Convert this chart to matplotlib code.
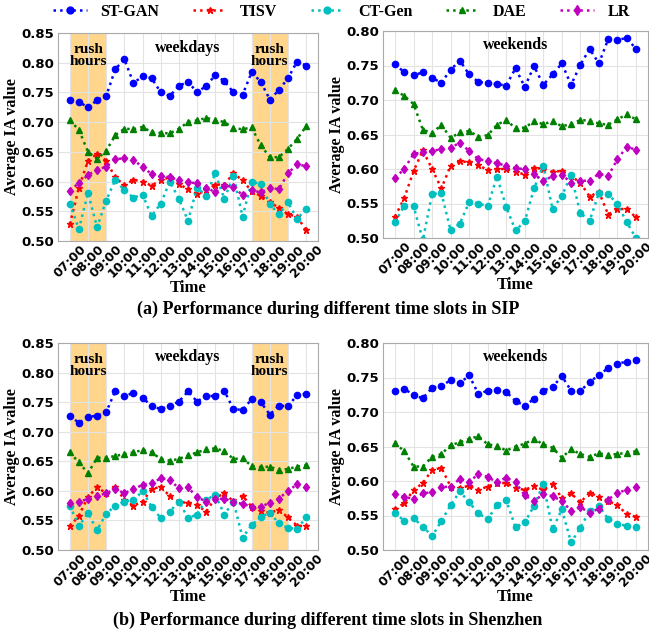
import numpy as np
import matplotlib.pyplot as plt

# half-hour slots 07:00 .. 20:00
hours = [7, 8, 9, 10, 11, 12, 13, 14, 15, 16, 17, 18, 19, 20]
hour_labels = ["%02d:00" % h for h in hours]
slots = np.arange(7, 20.01, 0.5)

methods = ["ST-GAN", "TISV", "CT-Gen", "DAE", "LR"]
colors = ["b", "r", "c", "g", "m"]
markers = ["o", "*", "o", "^", "d"]
msizes = [4.5, 4.5, 4.5, 4.5, 4.5]

# (a) SIP weekdays
sip_wd_stgan = [0.737, 0.734, 0.725, 0.737, 0.744, 0.789, 0.806, 0.766, 0.777, 0.774, 0.750, 0.744, 0.761, 0.768,
                0.750, 0.761, 0.779, 0.769, 0.750, 0.746, 0.784, 0.768, 0.738, 0.754, 0.774, 0.802, 0.795]
sip_wd_tisv = [0.528, 0.590, 0.635, 0.647, 0.635, 0.607, 0.594, 0.603, 0.600, 0.593, 0.603, 0.607, 0.596, 0.587,
               0.579, 0.585, 0.595, 0.595, 0.614, 0.602, 0.584, 0.576, 0.565, 0.556, 0.545, 0.541, 0.518]
sip_wd_ctgen = [0.563, 0.520, 0.581, 0.523, 0.568, 0.603, 0.585, 0.573, 0.578, 0.542, 0.563, 0.600, 0.571, 0.534,
                0.590, 0.576, 0.614, 0.571, 0.610, 0.541, 0.600, 0.596, 0.562, 0.545, 0.565, 0.537, 0.554]
sip_wd_dae = [0.703, 0.687, 0.650, 0.638, 0.652, 0.678, 0.689, 0.688, 0.692, 0.683, 0.682, 0.681, 0.689, 0.700,
              0.703, 0.707, 0.704, 0.700, 0.690, 0.688, 0.691, 0.661, 0.641, 0.641, 0.655, 0.672, 0.693]
sip_wd_lr = [0.584, 0.598, 0.611, 0.620, 0.625, 0.638, 0.639, 0.637, 0.624, 0.613, 0.610, 0.607, 0.603, 0.599,
             0.597, 0.590, 0.582, 0.593, 0.591, 0.577, 0.585, 0.582, 0.590, 0.587, 0.614, 0.629, 0.626]

# (a) SIP weekends
sip_we_stgan = [0.752, 0.740, 0.736, 0.740, 0.732, 0.725, 0.744, 0.757, 0.737, 0.726, 0.725, 0.723, 0.721, 0.746,
                0.719, 0.749, 0.722, 0.737, 0.753, 0.722, 0.751, 0.774, 0.753, 0.788, 0.787, 0.790, 0.774]
sip_we_tisv = [0.531, 0.558, 0.597, 0.627, 0.600, 0.572, 0.605, 0.611, 0.610, 0.606, 0.598, 0.600, 0.600, 0.596,
               0.592, 0.602, 0.600, 0.596, 0.597, 0.590, 0.580, 0.560, 0.567, 0.534, 0.542, 0.542, 0.530]
sip_we_ctgen = [0.523, 0.547, 0.546, 0.497, 0.564, 0.565, 0.511, 0.521, 0.552, 0.550, 0.546, 0.589, 0.545, 0.511,
                0.524, 0.572, 0.605, 0.542, 0.561, 0.591, 0.536, 0.525, 0.565, 0.564, 0.549, 0.523, 0.500]
sip_we_dae = [0.714, 0.706, 0.694, 0.657, 0.652, 0.664, 0.645, 0.653, 0.655, 0.647, 0.649, 0.664, 0.671, 0.659,
              0.660, 0.669, 0.665, 0.669, 0.662, 0.665, 0.671, 0.670, 0.666, 0.664, 0.672, 0.679, 0.672]
sip_we_lr = [0.587, 0.600, 0.622, 0.624, 0.626, 0.629, 0.631, 0.638, 0.626, 0.614, 0.612, 0.608, 0.605, 0.601,
             0.600, 0.593, 0.582, 0.590, 0.592, 0.580, 0.583, 0.583, 0.593, 0.590, 0.614, 0.632, 0.628]

# (b) Shenzhen weekdays
sz_wd_stgan = [0.727, 0.715, 0.725, 0.727, 0.733, 0.769, 0.760, 0.766, 0.757, 0.744, 0.738, 0.744, 0.751, 0.768,
               0.751, 0.761, 0.760, 0.769, 0.738, 0.737, 0.755, 0.750, 0.729, 0.744, 0.743, 0.762, 0.764]
sz_wd_tisv = [0.540, 0.558, 0.590, 0.606, 0.596, 0.607, 0.585, 0.575, 0.582, 0.603, 0.607, 0.591, 0.582, 0.579,
              0.576, 0.565, 0.588, 0.596, 0.582, 0.592, 0.573, 0.566, 0.563, 0.568, 0.555, 0.541, 0.540]
sz_wd_ctgen = [0.575, 0.541, 0.562, 0.534, 0.561, 0.575, 0.582, 0.585, 0.599, 0.573, 0.554, 0.565, 0.582, 0.554,
               0.560, 0.585, 0.593, 0.560, 0.582, 0.521, 0.542, 0.556, 0.563, 0.545, 0.537, 0.536, 0.555]
sz_wd_dae = [0.665, 0.648, 0.630, 0.656, 0.656, 0.659, 0.662, 0.665, 0.669, 0.665, 0.654, 0.651, 0.654, 0.660,
             0.665, 0.670, 0.672, 0.667, 0.654, 0.655, 0.642, 0.640, 0.641, 0.635, 0.637, 0.641, 0.643]
sz_wd_lr = [0.580, 0.582, 0.586, 0.591, 0.596, 0.603, 0.596, 0.603, 0.610, 0.613, 0.621, 0.619, 0.604, 0.606,
            0.589, 0.582, 0.586, 0.587, 0.581, 0.578, 0.573, 0.573, 0.580, 0.587, 0.600, 0.611, 0.607]

# (b) Shenzhen weekends
sz_we_stgan = [0.731, 0.734, 0.724, 0.720, 0.735, 0.738, 0.746, 0.742, 0.753, 0.726, 0.731, 0.732, 0.729, 0.716,
               0.709, 0.719, 0.731, 0.736, 0.752, 0.731, 0.730, 0.744, 0.753, 0.764, 0.770, 0.773, 0.775]
sz_we_tisv = [0.559, 0.568, 0.587, 0.597, 0.616, 0.619, 0.592, 0.590, 0.593, 0.587, 0.592, 0.597, 0.597, 0.590,
              0.587, 0.593, 0.587, 0.596, 0.575, 0.582, 0.569, 0.583, 0.577, 0.571, 0.565, 0.552, 0.548]
sz_we_ctgen = [0.554, 0.542, 0.546, 0.534, 0.520, 0.542, 0.565, 0.585, 0.569, 0.553, 0.545, 0.565, 0.572, 0.533,
               0.540, 0.564, 0.596, 0.530, 0.559, 0.511, 0.532, 0.557, 0.564, 0.545, 0.538, 0.535, 0.534]
sz_we_dae = [0.655, 0.643, 0.621, 0.621, 0.635, 0.639, 0.652, 0.656, 0.661, 0.665, 0.653, 0.651, 0.644, 0.650,
             0.654, 0.661, 0.653, 0.648, 0.634, 0.646, 0.639, 0.635, 0.640, 0.638, 0.639, 0.641, 0.643]
sz_we_lr = [0.581, 0.577, 0.574, 0.582, 0.584, 0.591, 0.592, 0.603, 0.599, 0.610, 0.606, 0.598, 0.605, 0.598,
            0.579, 0.571, 0.581, 0.578, 0.571, 0.557, 0.562, 0.554, 0.560, 0.573, 0.583, 0.587, 0.591]

panels = [
    ([sip_wd_stgan, sip_wd_tisv, sip_wd_ctgen, sip_wd_dae, sip_wd_lr], "weekdays", 0.85),
    ([sip_we_stgan, sip_we_tisv, sip_we_ctgen, sip_we_dae, sip_we_lr], "weekends", 0.80),
    ([sz_wd_stgan, sz_wd_tisv, sz_wd_ctgen, sz_wd_dae, sz_wd_lr], "weekdays", 0.85),
    ([sz_we_stgan, sz_we_tisv, sz_we_ctgen, sz_we_dae, sz_we_lr], "weekends", 0.80),
]
rush = [(7, 9), (17, 19)]

W, H = 649, 635
fig = plt.figure(figsize=(W / 100, H / 100), dpi=100)
serif = "Liberation Serif"

# axes boxes in pixels: left, top, right, bottom
boxes = [(58, 33, 318, 241), (383, 31, 648, 238), (58, 343, 318, 550), (383, 343, 648, 550)]

for i, (series, label, ytop) in enumerate(panels):
    l, t, r, b = boxes[i]
    ax = fig.add_axes([l / W, 1 - b / H, (r - l) / W, (b - t) / H])
    for vals, name, c, m, ms in zip(series, methods, colors, markers, msizes):
        ax.plot(slots, vals, linestyle=":", linewidth=1.8, color=c, marker=m, markersize=ms, label=name)
    ax.set_ylim(0.50, ytop)
    ax.set_yticks(np.arange(0.50, ytop + 0.001, 0.05))
    ax.set_xticks(hours)
    ax.set_xticklabels(hour_labels, rotation=45, fontsize=9, fontweight="bold")
    for lab in ax.get_yticklabels():
        lab.set_fontweight("bold")
        lab.set_fontsize(9.5)
    ax.tick_params(axis="x", pad=1, length=0)
    ax.tick_params(axis="y", length=0, pad=3)
    ax.grid(True, color="#e3e3e3", linewidth=0.8)
    ax.set_axisbelow(True)
    for s in ax.spines.values():
        s.set_color("#aaaaaa")
    ax.set_xlabel("Time", fontfamily=serif, fontweight="bold", fontsize=12, labelpad=0)
    ax.set_ylabel("Average IA value", fontfamily=serif, fontweight="bold", fontsize=11.5, labelpad=1)
    ax.text(0.5, 0.93, label, transform=ax.transAxes, ha="center", va="center",
            fontfamily=serif, fontweight="bold", fontsize=11.5)
    if label == "weekdays":
        for a, z in rush:
            ax.axvspan(a, z, color="orange", alpha=0.45, zorder=0, lw=0)
            ax.text((a + z) / 2, 0.812, "rush\nhours", ha="center", va="center",
                    fontfamily=serif, fontweight="bold", fontsize=11, linespacing=0.95)
    if i == 0:
        handles, labels = ax.get_legend_handles_labels()

fig.legend(handles, labels, loc="center", bbox_to_anchor=(0.526, 0.981), ncol=5, frameon=False,
           prop={"family": serif, "weight": "bold", "size": 11.5}, columnspacing=2.1, handlelength=2.1,
           handletextpad=0.85, markerscale=1.1)

fig.text(0.505, 1 - 309 / H, "(a) Performance during different time slots in SIP", ha="center", va="center",
         fontfamily=serif, fontweight="bold", fontsize=13)
fig.text(0.505, 1 - 620 / H, "(b) Performance during different time slots in Shenzhen", ha="center", va="center",
         fontfamily=serif, fontweight="bold", fontsize=13)

fig.savefig("out.png", dpi=100)
